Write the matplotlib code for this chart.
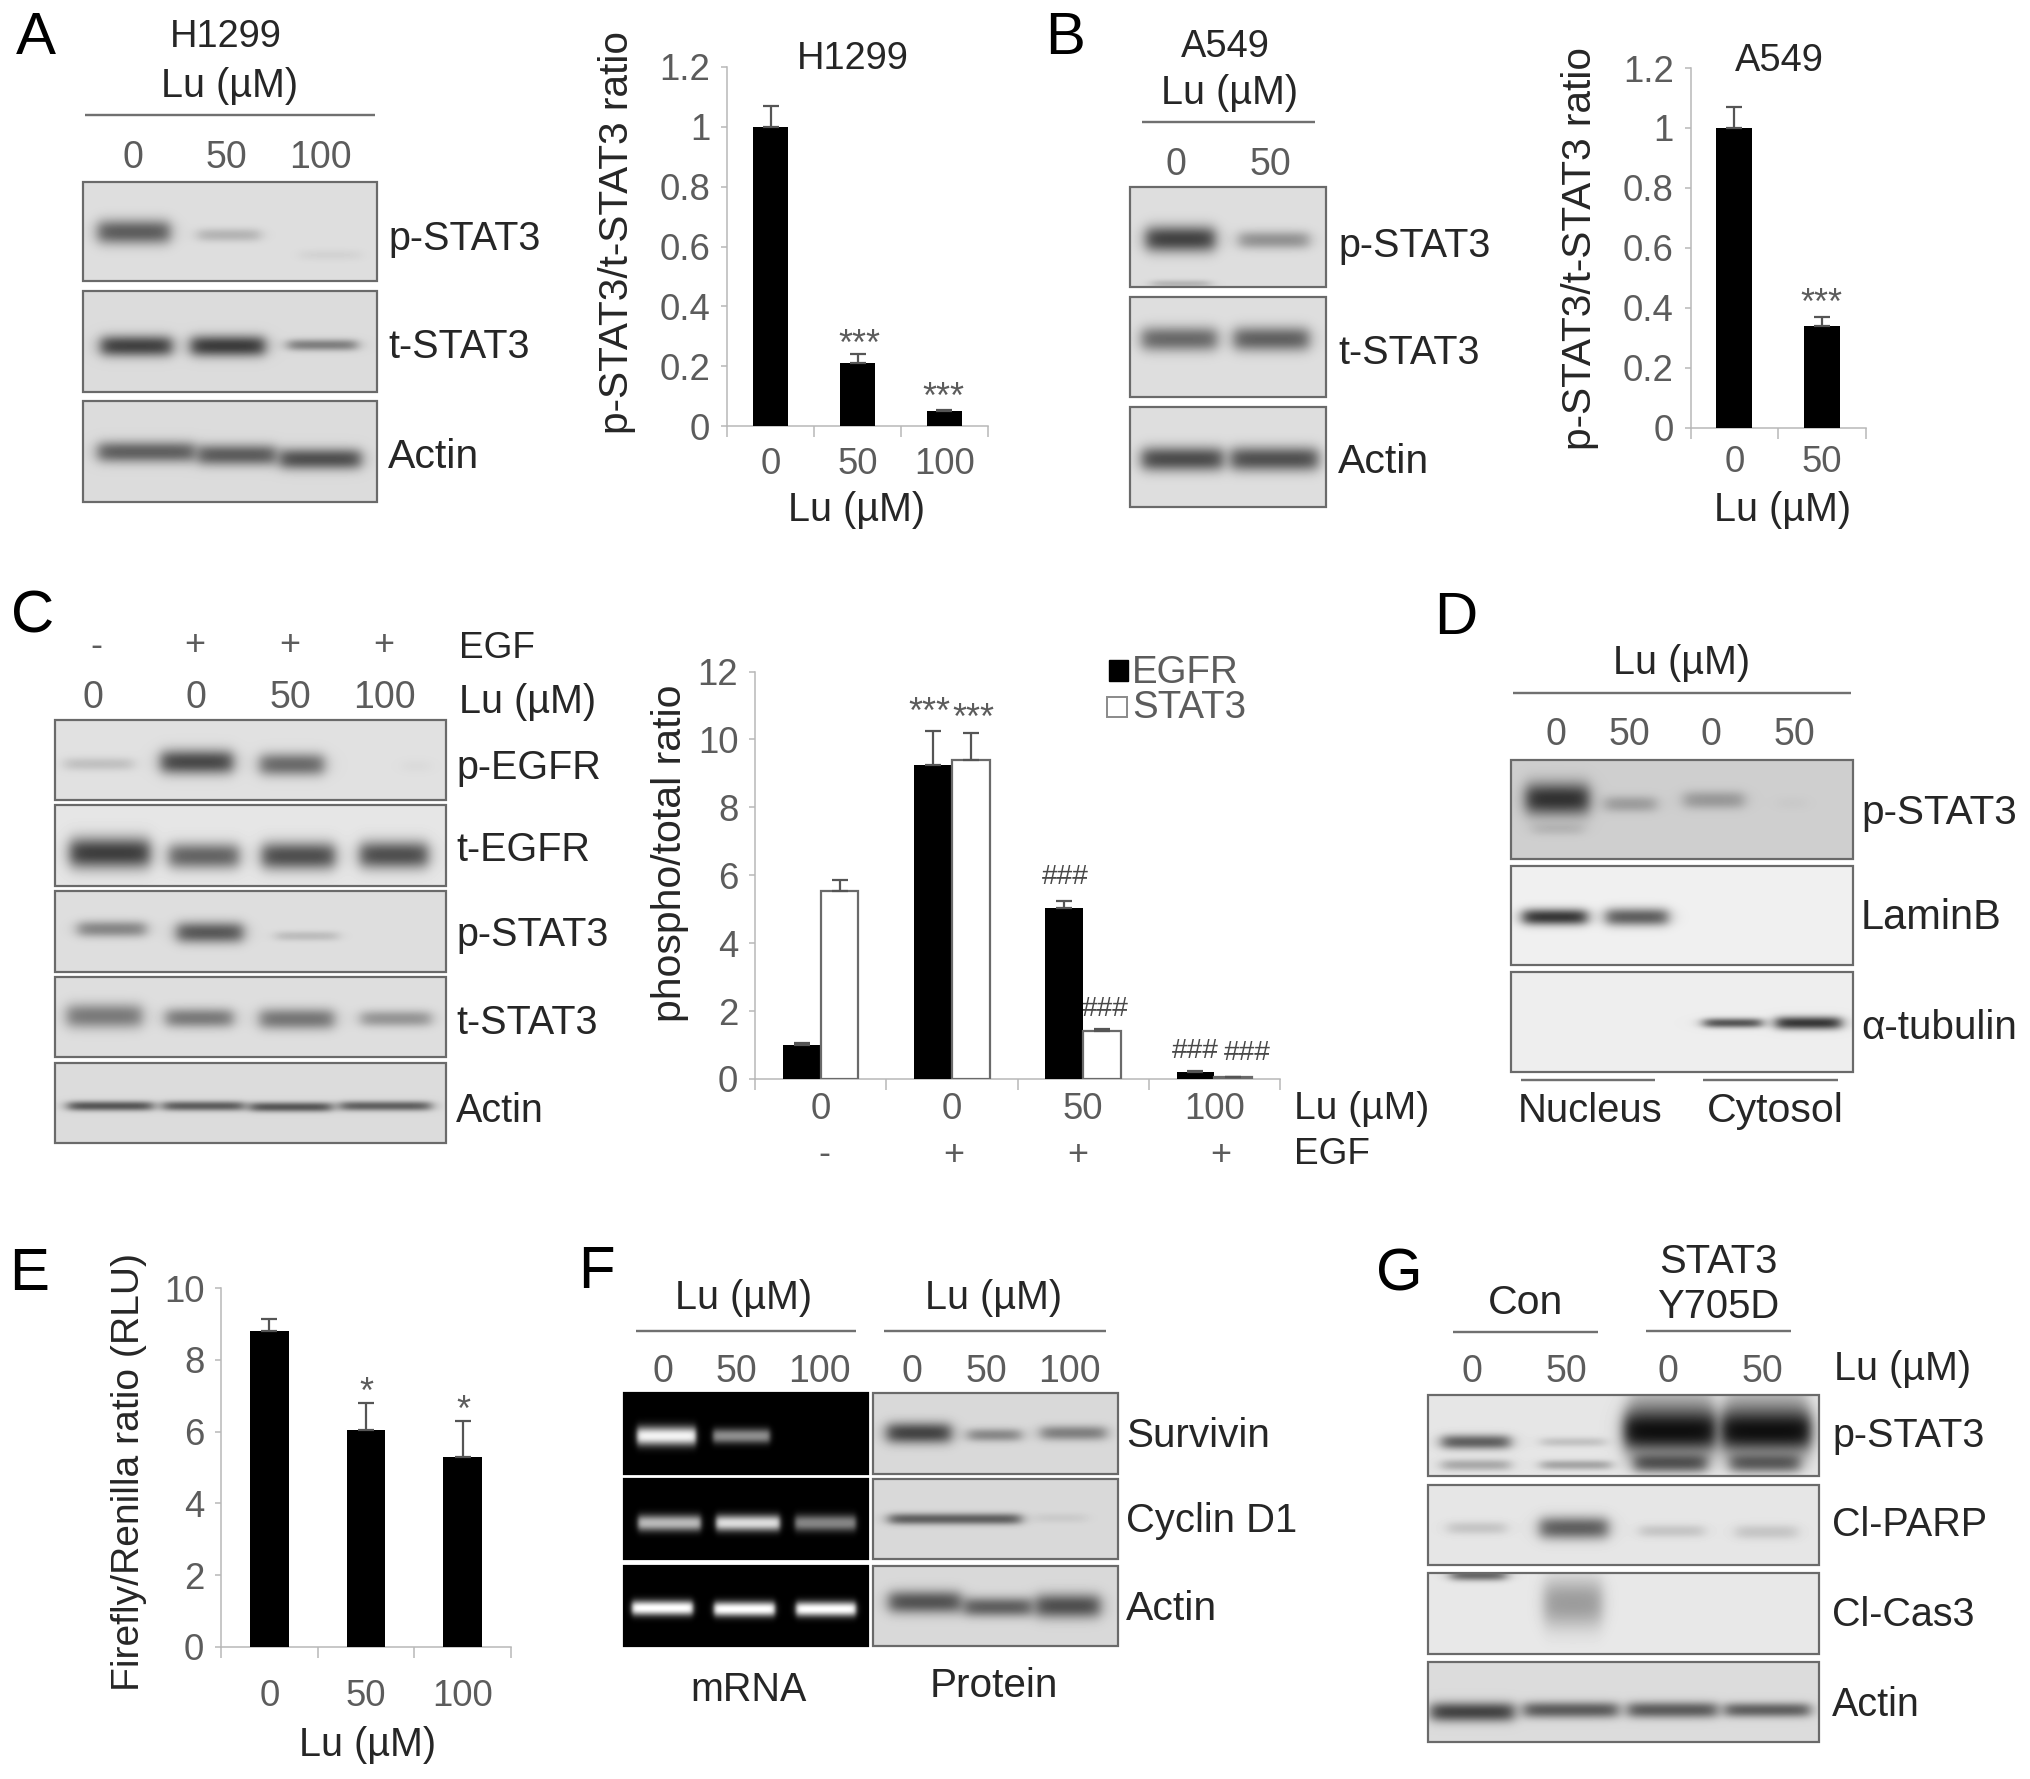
import numpy as np
import matplotlib
matplotlib.use("Agg")
import matplotlib.pyplot as plt
from matplotlib.patches import Rectangle

plt.rcParams['font.family'] = ['Liberation Sans', 'DejaVu Sans']

W, H = 2031, 1779
DARK, GREY, AXIS = '#262626', '#5c5c5c', '#b8b8b8'
NUM = 37.5

# ---------- bar chart data ----------
A_CATS = ['0', '50', '100']
A_VALS = [1.0, 0.21, 0.05]
A_ERRS = [0.07, 0.03, 0.005]
B_CATS = ['0', '50']
B_VALS = [1.0, 0.34]
B_ERRS = [0.07, 0.03]
C_LU = ['0', '0', '50', '100']
C_EGF = ['-', '+', '+', '+']
C_EGFR = [1.0, 9.25, 5.05, 0.2]
C_EGFR_ERR = [0.05, 1.0, 0.2, 0.05]
C_STAT3 = [5.55, 9.4, 1.4, 0.05]
C_STAT3_ERR = [0.3, 0.8, 0.08, 0.02]
E_CATS = ['0', '50', '100']
E_VALS = [8.8, 6.05, 5.3]
E_ERRS = [0.35, 0.75, 1.0]

# ---------- blot band strengths, lane by lane ----------
A_P = [0.62, 0.2, 0.05]
A_T = [0.75, 0.78, 0.45]
A_ACT = [0.6, 0.62, 0.68]
B_P = [0.75, 0.36, 0.2]
B_T = [0.56, 0.6]
B_ACT = [0.7, 0.68]
C_PE = [0.15, 0.72, 0.56, 0.03]
C_TE = [0.78, 0.6, 0.7, 0.7]
C_PS = [0.42, 0.64, 0.16]
C_TS = [0.48, 0.48, 0.5, 0.35]
C_ACT = [0.65, 0.62, 0.65, 0.6]
D_P = [0.82, 0.26, 0.28, 0.03, 0.12]
D_L = [0.82, 0.64]
D_TUB = [0.68, 0.82]
F_GS = [0.95, 0.55]
F_GC = [0.72, 0.86, 0.52]
F_GA = [1.0, 1.0, 1.0]
F_PS = [0.74, 0.4, 0.44]
F_PC = [0.6, 0.07]
F_PA = [0.66, 0.6, 0.68]
G_P = [0.62, 0.16, 0.28, 0.3, 0.66, 0.62, 1.0, 1.0, 0.3, 0.3]
G_C = [0.15, 0.62, 0.15, 0.15]
G_CAS = [0.6, 0.35]
G_ACT = [0.74, 0.62, 0.62, 0.6]

fig = plt.figure(figsize=(W / 100, H / 100), dpi=100, facecolor='white')
ov = fig.add_axes([0, 0, 1, 1])
ov.set_xlim(0, W)
ov.set_ylim(H, 0)
ov.axis('off')
ov.set_autoscale_on(False)


def T(x, y, s, size=39.5, ha='center', color=DARK, rot=0, **kw):
    ov.text(x, y + (2 if rot == 0 else 0), s, fontsize=size * 0.72, ha=ha, va='center',
            color=color, rotation=rot, **kw)


def rule(x0, x1, y, color='#707070', lw=2.4):
    ov.plot([x0, x1], [y, y], color=color, lw=lw * 0.72, solid_capstyle='butt')


def blot(box, bg, bands, strengths, tone=0.06, frame='#6a6a6a', soft=8.0, scale=1.65):
    x0, x1, y0, y1 = box
    xs = np.arange(x0, x1) + 0.5
    ys = np.arange(y0, y1) + 0.5
    X, Y = np.meshgrid(xs, ys)
    trans = np.ones_like(X, dtype=float)
    for (a, b, cy, h), s in zip(bands, strengths):
        gx = 0.5 * (np.tanh((X - a) / soft) - np.tanh((X - b) / soft))
        gy = np.exp(-np.abs((Y - cy) / (h * scale / 2)) ** 2.2)
        trans *= 1 - s * gx * gy
    img = tone + (bg - tone) * trans
    ov.imshow(img, extent=(x0, x1, y1, y0), cmap='gray', vmin=0, vmax=1,
              aspect='auto', interpolation='bilinear', zorder=1)
    ov.add_patch(Rectangle((x0, y0), x1 - x0, y1 - y0, fill=False,
                           ec=frame, lw=2.2 * 0.72, zorder=2))


def chart(x0, x1, ytop, ybot, ymax, yticks, ylabels, cats, pad=15):
    ax = fig.add_axes([x0 / W, 1 - ybot / H, (x1 - x0) / W, (ybot - ytop) / H])
    ax.patch.set_alpha(0)
    n = len(cats)
    ax.set_xlim(0, n)
    ax.set_ylim(0, ymax)
    for s in ('top', 'right'):
        ax.spines[s].set_visible(False)
    for s in ('left', 'bottom'):
        ax.spines[s].set_color(AXIS)
        ax.spines[s].set_linewidth(1.1)
    ax.set_yticks(yticks)
    ax.set_yticklabels(ylabels, fontsize=36.5 * 0.72, color=GREY)
    ax.tick_params(axis='y', length=4, width=1.1, color=AXIS, pad=8)
    ax.set_xticks(np.arange(n + 1))
    ax.set_xticklabels([])
    ax.tick_params(axis='x', which='major', length=8, width=1.1, color=AXIS)
    ax.set_xticks(np.arange(n) + 0.5, minor=True)
    ax.set_xticklabels(cats, minor=True, fontsize=36.5 * 0.72, color=GREY)
    ax.tick_params(axis='x', which='minor', length=0, pad=pad)
    return ax


ERR = dict(ecolor='#555555', elinewidth=1.6, capsize=5.5, capthick=1.6)


def singles(ax, vals, errs, width=0.41):
    pos = np.arange(len(vals)) + 0.5
    ax.bar(pos, vals, width=width, color='black',
           yerr=[np.zeros(len(vals)), errs], error_kw=ERR, zorder=3)


# ---------- panel letters ----------
for x, y, s in [(36, 36, 'A'), (1065, 36, 'B'), (33, 615, 'C'), (1456, 617, 'D'),
                (29, 1272, 'E'), (596, 1270, 'F'), (1399, 1273, 'G')]:
    T(x, y, s, size=60, color='black')

# ---------- A ----------
T(226, 35, 'H1299', size=38)
T(230, 84, 'Lu (µM)')
rule(85, 375, 115)
for x, s in zip((133, 226, 320), A_CATS):
    T(x, 156, s, size=NUM, color=GREY)
blot((83, 377, 182, 281), 0.87, [(98, 170, 232, 15), (198, 260, 235, 8), (300, 361, 255, 7)], A_P)
blot((83, 377, 291, 392), 0.86, [(101, 172, 346, 13), (191, 265, 346, 13), (288, 357, 345, 7)], A_T)
blot((83, 377, 401, 502), 0.86, [(98, 195, 452, 13), (198, 276, 455, 13), (280, 361, 459, 13)], A_ACT)
T(388, 237, 'p-STAT3', ha='left')
T(388, 345, 't-STAT3', ha='left')
T(388, 455, 'Actin', ha='left', size=41)

ax = chart(727, 988, 67, 426, 1.2, [0, .2, .4, .6, .8, 1, 1.2],
           ['0', '0.2', '0.4', '0.6', '0.8', '1', '1.2'], A_CATS, pad=15)
singles(ax, A_VALS, A_ERRS)
T(617, 233, 'p-STAT3/t-STAT3 ratio', rot=90, size=40.6)
T(853, 57, 'H1299', size=38)
T(857, 508, 'Lu (µM)')
T(859, 343, '***', size=36, color=GREY)
T(943, 396, '***', size=36, color=GREY)

# ---------- B ----------
T(1225, 45, 'A549', size=38)
T(1230, 91, 'Lu (µM)')
rule(1142, 1315, 122)
for x, s in zip((1176, 1270), B_CATS):
    T(x, 163, s, size=NUM, color=GREY)
blot((1130, 1326, 187, 287), 0.87, [(1146, 1215, 239, 16), (1239, 1309, 240, 11), (1152, 1210, 284, 5)], B_P)
blot((1130, 1326, 297, 397), 0.87, [(1142, 1217, 339, 15), (1234, 1309, 339, 15)], B_T)
blot((1130, 1326, 407, 507), 0.87, [(1142, 1223, 459, 15), (1231, 1318, 459, 15)], B_ACT)
T(1338, 244, 'p-STAT3', ha='left')
T(1338, 351, 't-STAT3', ha='left')
T(1338, 460, 'Actin', ha='left', size=41)

ax = chart(1690.5, 1866, 68, 427.5, 1.2, [0, .2, .4, .6, .8, 1, 1.2],
           ['0', '0.2', '0.4', '0.6', '0.8', '1', '1.2'], B_CATS, pad=12.5)
singles(ax, B_VALS, B_ERRS)
T(1580, 249, 'p-STAT3/t-STAT3 ratio', rot=90, size=40.6)
T(1779.5, 59, 'A549', size=38)
T(1783, 508, 'Lu (µM)')
T(1821, 302, '***', size=36, color=GREY)

# ---------- C ----------
for x, s in zip((96, 195, 290, 384), C_EGF):
    T(x, 644, s, size=36, color=GREY)
for x, s in zip((93, 196, 290, 384), C_LU):
    T(x, 696, s, size=NUM, color=GREY)
T(459, 647, 'EGF', ha='left', size=37)
T(459, 700, 'Lu (µM)', ha='left')
blot((55, 446, 720, 800), 0.88, [(65, 133, 764, 8), (161, 233, 762, 15), (260, 324, 764.5, 14), (403, 430, 766, 8)], C_PE)
blot((55, 446, 805, 886), 0.90, [(70, 150, 853, 19), (169, 239, 856, 16), (262, 335, 856, 17), (360, 428, 855, 17)], C_TE)
blot((55, 446, 891, 972), 0.87, [(78, 146, 929, 10), (177, 243, 932.5, 13), (276, 338, 936, 6)], C_PS)
blot((55, 446, 977, 1057), 0.87, [(67, 142, 1016, 15), (166, 233, 1018, 12), (260, 334, 1019, 13), (361, 431, 1018.6, 10)], C_TS)
blot((55, 446, 1063, 1143), 0.86, [(68, 153, 1106, 6), (163, 244, 1106, 6), (250, 332, 1107, 6), (340, 431, 1106, 6)], C_ACT)
for y, s in [(766, 'p-EGFR'), (848, 't-EGFR'), (933, 'p-STAT3'), (1021, 't-STAT3'), (1109, 'Actin')]:
    T(456, y, s, ha='left')

ax = chart(755, 1280, 671.5, 1079, 12, [0, 2, 4, 6, 8, 10, 12],
           ['0', '2', '4', '6', '8', '10', '12'], C_LU, pad=9.5)
pos = np.arange(4) + 0.5
bw = 0.288
ax.bar(pos - bw / 2, C_EGFR, width=bw, color='black', label='EGFR',
       yerr=[np.zeros(4), C_EGFR_ERR], error_kw=ERR, zorder=3)
ax.bar(pos + bw / 2, C_STAT3, width=bw, color='white', edgecolor='#6a6a6a', linewidth=1.6,
       label='STAT3', yerr=[np.zeros(4), C_STAT3_ERR], error_kw=ERR, zorder=3)
T(670, 853, 'phospho/total ratio', rot=90, size=41)
T(929, 711, '***', size=36, color=GREY)
T(973, 717, '***', size=36, color=GREY)
for x, y in [(1065, 875), (1105, 1007), (1195, 1049), (1247, 1051)]:
    T(x, y, '###', size=28, color='#484848')
ov.add_patch(Rectangle((1109, 660), 19, 21, fc='black', ec='black', zorder=3))
ov.add_patch(Rectangle((1107, 697), 20, 20, fc='white', ec='#8a8a8a', lw=1.4, zorder=3))
T(1132, 671, 'EGFR', ha='left', color=GREY, size=38.5)
T(1132, 706.5, 'STAT3', ha='left', color=GREY, size=38.5)
for x, s in zip((824, 954, 1078, 1221), C_EGF):
    T(x, 1153, s, size=36, color=GREY)
T(1294, 1107, 'Lu (µM)', ha='left', size=39)
T(1294, 1153, 'EGF', ha='left', size=37)

# ---------- D ----------
T(1682, 661, 'Lu (µM)')
rule(1513, 1851, 693)
for x, s in zip((1556, 1629, 1711, 1794), ['0', '50', '0', '50']):
    T(x, 733, s, size=NUM, color=GREY)
blot((1511, 1853, 760, 859), 0.81, [(1526, 1589, 799, 20), (1605, 1656, 804, 10), (1684, 1744, 800, 11),
                                    (1778, 1806, 803, 8), (1533, 1583, 829, 8)], D_P)
blot((1511, 1853, 866, 965), 0.94, [(1523, 1587, 917, 10), (1606, 1668, 917, 11)], D_L)
blot((1511, 1853, 972, 1072), 0.93, [(1704, 1762, 1023, 6), (1776, 1841, 1023, 8)], D_TUB)
T(1861, 811, 'p-STAT3', ha='left', size=40.5)
T(1861, 916, 'LaminB', ha='left', size=41.5)
T(1861, 1026, 'α-tubulin', ha='left', size=40.5)
rule(1521, 1655, 1080)
rule(1703, 1838, 1080)
T(1590, 1109, 'Nucleus', size=40)
T(1775, 1109, 'Cytosol', size=41)

# ---------- E ----------
ax = chart(221, 511, 1288, 1647, 10, [0, 2, 4, 6, 8, 10],
           ['0', '2', '4', '6', '8', '10'], E_CATS, pad=23)
singles(ax, E_VALS, E_ERRS, width=0.4)
T(129, 1472, 'Firefly/Renilla ratio (RLU)', rot=90, size=39)
T(366, 1391, '*', size=36, color=GREY)
T(463, 1409, '*', size=36, color=GREY)
T(368, 1743, 'Lu (µM)')

# ---------- F ----------
T(744, 1296, 'Lu (µM)')
T(994, 1296, 'Lu (µM)')
rule(636, 856, 1331)
rule(884, 1106, 1330.5)
for x, s in zip((663, 736, 819, 912, 986, 1069), ['0', '50', '100'] * 2):
    T(x, 1370, s, size=NUM, color=GREY)
bandsG = [[(637, 696, 1436, 14), (713, 770, 1436, 11)],
          [(638, 701, 1523, 12), (716, 780, 1523, 12), (795, 856, 1523, 12)],
          [(632, 693, 1608, 11), (714, 775, 1609, 11), (796, 856, 1609, 11)]]
for box, b, s in zip([(624, 868, 1393, 1474), (624, 868, 1479, 1559), (624, 868, 1566, 1646)],
                     bandsG, [F_GS, F_GC, F_GA]):
    blot(box, 0.0, b, s, tone=1.0, frame='black', soft=3.0, scale=1.35)
blot((873, 1118, 1393, 1474), 0.85, [(887, 951, 1433, 13), (968, 1021, 1435, 8), (1041, 1106, 1433, 9)], F_PS)
blot((873, 1118, 1479, 1559), 0.85, [(889, 1021, 1519, 7), (1036, 1086, 1518, 6)], F_PC)
blot((873, 1118, 1566, 1646), 0.85, [(889, 961, 1602, 14), (964, 1032, 1607, 12), (1036, 1100, 1606, 15)], F_PA)
T(749, 1688, 'mRNA')
T(994, 1684, 'Protein', size=40.5)
T(1126, 1434, 'Survivin', ha='left', size=40.5)
T(1126, 1519, 'Cyclin D1', ha='left', size=40)
T(1126, 1607, 'Actin', ha='left', size=41)

# ---------- G ----------
T(1525, 1301, 'Con', size=41)
T(1718.5, 1260, 'STAT3', size=40)
T(1718, 1305, 'Y705D', size=40)
rule(1453, 1598, 1332)
rule(1646, 1791, 1331)
for x, s in zip((1472, 1566, 1668, 1762), ['0', '50', '0', '50']):
    T(x, 1370, s, size=NUM, color=GREY)
T(1833.5, 1367, 'Lu (µM)', ha='left')
blot((1428, 1819, 1395, 1476), 0.90,
     [(1442, 1510, 1442, 9), (1541, 1605, 1442, 6), (1442, 1510, 1465, 7), (1541, 1611, 1465, 6),
      (1634, 1707, 1463, 12), (1730, 1800, 1463, 12), (1624, 1716, 1431, 26), (1721, 1811, 1431, 26),
      (1630, 1712, 1415, 36), (1726, 1806, 1415, 36)], G_P, soft=8)
blot((1428, 1819, 1485, 1565), 0.90, [(1448, 1506, 1528, 8), (1540, 1608, 1528, 14), (1640, 1704, 1531, 8), (1736, 1797, 1532, 9)], G_C)
blot((1428, 1819, 1573, 1654), 0.91, [(1451, 1506, 1575, 7), (1544, 1602, 1603, 30)], G_CAS)
blot((1428, 1819, 1662, 1742), 0.86, [(1431, 1514, 1712, 12), (1524, 1618, 1710, 10), (1628, 1717, 1710, 10), (1725, 1810, 1710, 9)], G_ACT)
T(1832, 1434, 'p-STAT3', ha='left')
T(1832, 1523, 'Cl-PARP', ha='left')
T(1832, 1613, 'Cl-Cas3', ha='left')
T(1832, 1703, 'Actin', ha='left')

fig.savefig('out.png', dpi=100, facecolor='white')
